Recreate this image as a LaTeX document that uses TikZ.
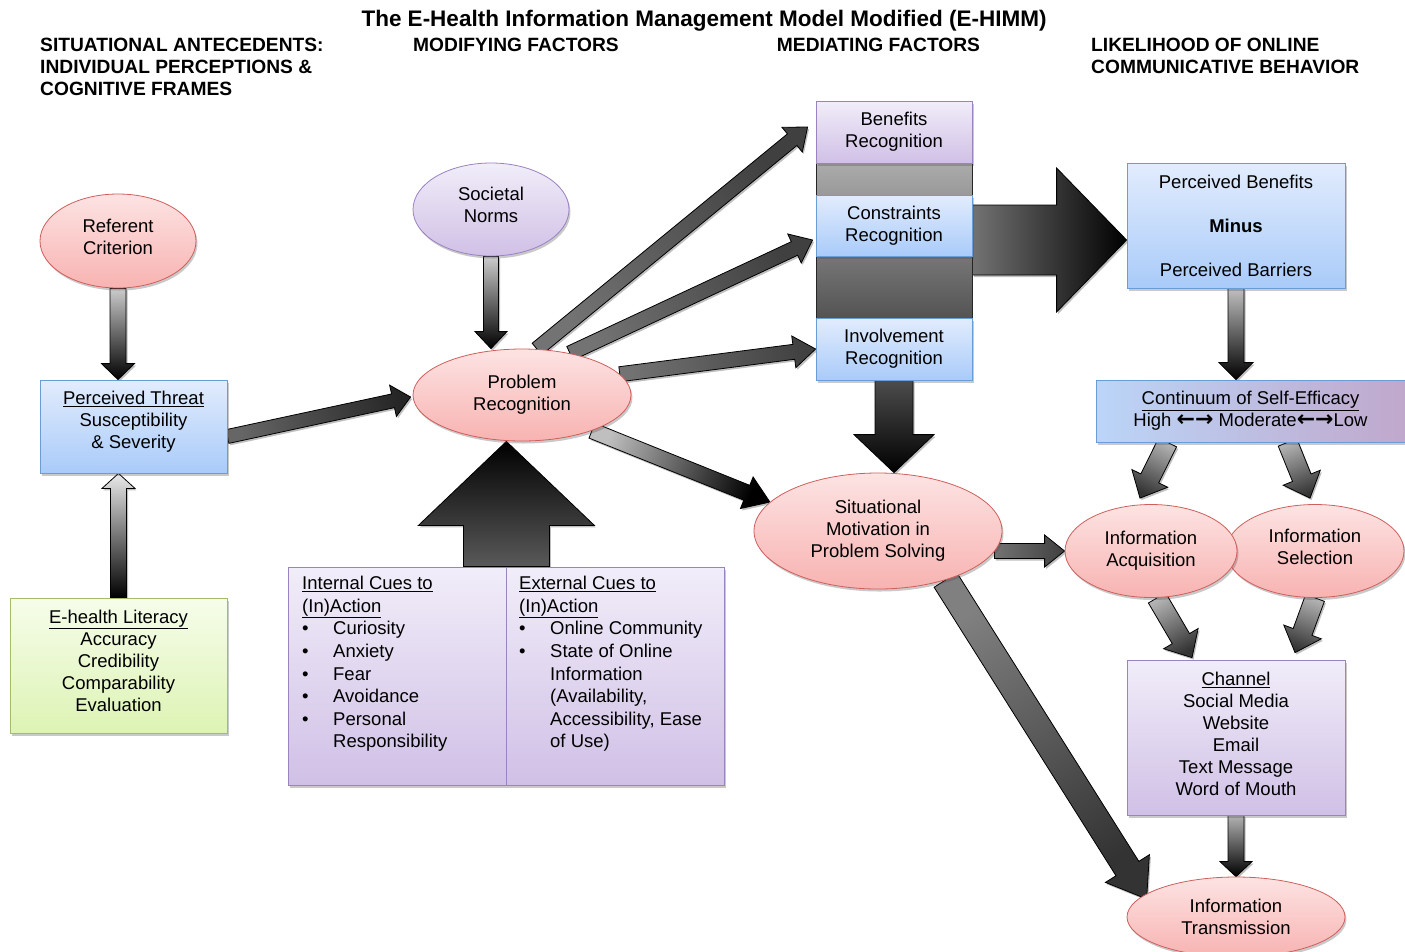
\documentclass[tikz,border=0pt]{standalone}
\usepackage{fontspec}
\setmainfont{Liberation Sans}
\newfontfamily\arrowfont{DejaVu Sans}
\usetikzlibrary{shapes.geometric,calc,shadows}

\pgfdeclarelayer{background}
\pgfsetlayers{background,main}

\definecolor{pinktop}{HTML}{FDE3E3}
\definecolor{pinkbot}{HTML}{F7B3B1}
\definecolor{pinkline}{HTML}{CF5F5C}
\definecolor{bluetop}{HTML}{E2ECFD}
\definecolor{bluebot}{HTML}{A9CBF9}
\definecolor{blueline}{HTML}{6A9CD6}
\definecolor{purptop}{HTML}{F1EDF9}
\definecolor{purpbot}{HTML}{D0C0E6}
\definecolor{purpline}{HTML}{9B82C1}
\definecolor{greentop}{HTML}{F6FDEA}
\definecolor{greenbot}{HTML}{DDF3B4}
\definecolor{greenline}{HTML}{A1BF69}
\definecolor{contleft}{HTML}{BBD5F8}
\definecolor{contmid}{HTML}{D6D4EE}
\definecolor{contright}{HTML}{C0A8CC}

% tail, tip, shaft half width, head half width, head length, tail colour, tip colour
\newcommand{\blockarrow}[7]{%
  \coordinate (ba-t) at (#1);
  \coordinate (ba-h) at (#2);
  \coordinate (ba-b) at ($(ba-h)!#5pt!(ba-t)$);
  \path let \p1=($(ba-h)-(ba-t)$), \n1={atan2(\y1,\x1)+90} in \pgfextra{\xdef\bashade{\n1}};
  \draw[arrowline,left color=#6,right color=#7,shading angle=\bashade]
    ($(ba-t)!#3pt!90:(ba-h)$) -- ($(ba-b)!#3pt!90:(ba-h)$) -- ($(ba-b)!#4pt!90:(ba-h)$)
    -- (ba-h) -- ($(ba-b)!#4pt!-90:(ba-h)$) -- ($(ba-b)!#3pt!-90:(ba-h)$)
    -- ($(ba-t)!#3pt!-90:(ba-h)$) -- cycle;
}
\newcommand{\bul}{\makebox[31pt][l]{\textbullet}}
\newcommand{\ind}{\hspace*{31pt}}
\newcommand{\twoway}{{\fontsize{22}{22}\arrowfont\bfseries ←→}}

\tikzset{
  every node/.style={font=\fontsize{18.5}{22}\selectfont,align=center},
  softshadow/.style={drop shadow={shadow xshift=1.5pt,shadow yshift=-2.5pt,opacity=0.3,fill=black!70}},
  arrowline/.style={draw=black,line width=0.8pt,line join=miter,
    drop shadow={shadow xshift=1.5pt,shadow yshift=-2pt,opacity=0.25,fill=black}},
  head/.style={font=\fontsize{19.2}{22}\selectfont\bfseries,inner sep=0pt},
  cuetext/.style={anchor=north west,align=left,inner sep=0pt,font=\fontsize{18.5}{22.6}\selectfont},
  pinkoval/.style={ellipse,draw=pinkline,line width=0.8pt,top color=pinktop,bottom color=pinkbot,inner sep=0pt,softshadow},
  purpoval/.style={ellipse,draw=purpline,line width=0.8pt,top color=purptop,bottom color=purpbot,inner sep=0pt,softshadow},
  bluebox/.style={rectangle,draw=blueline,line width=0.8pt,top color=bluetop,bottom color=bluebot,inner sep=0pt,softshadow},
  purpbox/.style={rectangle,draw=purpline,line width=0.8pt,top color=purptop,bottom color=purpbot,inner sep=0pt,softshadow},
  greenbox/.style={rectangle,draw=greenline,line width=0.8pt,top color=greentop,bottom color=greenbot,inner sep=0pt,softshadow}
}

\begin{document}
\begin{tikzpicture}[x=1pt,y=-1pt]
\useasboundingbox (0,0) rectangle (1405,951);

\node[font=\fontsize{22.5}{26}\selectfont\bfseries,inner sep=0pt] (title) at (704,21) {The E-Health Information Management Model Modified (E-HIMM)};
\node[head,anchor=north west,align=left] (hsit) at (40,38) {SITUATIONAL ANTECEDENTS:\\INDIVIDUAL PERCEPTIONS \&\\COGNITIVE FRAMES};
\node[head] (hmod) at (516,45) {MODIFYING FACTORS};
\node[head] (hmed) at (878.5,45) {MEDIATING FACTORS};
\node[head,anchor=north west,align=left] (hlik) at (1091,38) {LIKELIHOOD OF ONLINE\\COMMUNICATIVE BEHAVIOR};

\node[pinkoval,minimum width=156pt,minimum height=94pt,text depth=8pt] (ref) at (118,241) {Referent\\Criterion};
\node[bluebox,minimum width=187pt,minimum height=93pt,text depth=14pt] (thr) at (133.5,426.5) {\underline{Perceived Threat}\\Susceptibility\\\& Severity};
\node[greenbox,minimum width=217pt,minimum height=135pt,text depth=10pt] (lit) at (118.5,665.5) {\underline{E-health Literacy}\\Accuracy\\Credibility\\Comparability\\Evaluation};

\node[purpoval,minimum width=156pt,minimum height=93pt,text depth=10pt] (soc) at (491,209.5) {Societal\\Norms};
\node[pinkoval,minimum width=218pt,minimum height=92pt] (pr) at (522,395) {Problem\\Recognition};
\node[purpbox,minimum width=218pt,minimum height=218pt] (cueL) at (397,676) {};
\node[purpbox,minimum width=218pt,minimum height=218pt] (cueR) at (615,676) {};
\node[cuetext] (cueLtxt) at (302,576) {\underline{Internal Cues to}\\\underline{(In)Action}\\\bul Curiosity\\\bul Anxiety\\\bul Fear\\\bul Avoidance\\\bul Personal\\\ind Responsibility};
\node[cuetext] (cueRtxt) at (519,576) {\underline{External Cues to}\\\underline{(In)Action}\\\bul Online Community\\\bul State of Online\\\ind Information\\\ind (Availability,\\\ind Accessibility, Ease\\\ind of Use)};

\node[rectangle,draw=black!85,line width=0.8pt,top color=black!30,bottom color=black!70,minimum width=156pt,minimum height=180pt] (medcol) at (894,240) {};
\node[purpbox,minimum width=156pt,minimum height=62pt] (ben) at (894,132) {Benefits\\Recognition};
\node[bluebox,minimum width=156pt,minimum height=61pt] (con) at (894,225.5) {Constraints\\Recognition};
\node[bluebox,minimum width=156pt,minimum height=62pt] (inv) at (894,349) {Involvement\\Recognition};
\node[pinkoval,minimum width=248pt,minimum height=116pt] (sit) at (878,531) {Situational\\Motivation in\\Problem Solving};

\node[bluebox,minimum width=218pt,minimum height=125pt] (pb) at (1236,225.5) {Perceived Benefits\\[22pt]\textbf{Minus}\\[22pt]Perceived Barriers};
\node[rectangle,draw=blueline,line width=0.8pt,left color=contleft,middle color=contmid,right color=contright,inner sep=0pt,softshadow,minimum width=309pt,minimum height=62pt] (cont) at (1250.5,411) {\underline{Continuum of Self-Efficacy}\\High \twoway{} Moderate\twoway Low};
\node[pinkoval,minimum width=178pt,minimum height=93pt,text depth=8pt] (sel) at (1315,551) {Information\\Selection};
\node[pinkoval,minimum width=172pt,minimum height=93pt] (acq) at (1151,551) {Information\\Acquisition};
\node[purpbox,minimum width=218pt,minimum height=155pt,text depth=8pt] (chan) at (1236,737.5) {\underline{Channel}\\Social Media\\Website\\Email\\Text Message\\Word of Mouth};
\node[pinkoval,minimum width=218pt,minimum height=80pt] (tra) at (1236,917) {Information\\Transmission};

\begin{pgfonlayer}{background}
\blockarrow{ref.south}{ref.south |- thr.north}{8}{16.5}{16}{black!20}{black}
\blockarrow{lit.north}{lit.north |- thr.south}{8}{16.5}{15}{black}{black!8}
\blockarrow{$(thr.east)+(0,10)$}{$(pr.west)+(-2,2)$}{7}{16}{18}{black!60}{black!85}
\blockarrow{soc.south}{soc.south |- pr.north}{7.5}{16}{17}{black!20}{black}
\blockarrow{pr.72}{$(ben.west)+(-8,-5)$}{7.5}{16}{20}{black!55}{black!75}
\blockarrow{pr.41}{$(con.west)+(-3,14.5)$}{7.5}{16}{20}{black!55}{black!75}
\blockarrow{pr.12}{inv.west}{7.5}{16}{22}{black!55}{black!75}
\blockarrow{pr.-27}{sit.165}{8}{17}{25}{black!25}{black}
\blockarrow{cueL.north east}{cueL.north east |- pr.south}{43}{88}{84}{black!65}{black}
\blockarrow{inv.south}{inv.south |- sit.north}{19}{40}{38}{black!70}{black}
\blockarrow{$(con.east)+(0,14.5)$}{$(pb.west)+(0,14.5)$}{35}{72}{70}{black!55}{black}
\blockarrow{pb.south}{pb.south |- cont.north}{8}{17}{17}{black!25}{black}
\blockarrow{$(cont.south west)+(72,0)$}{$(acq.north)+(-11,-6)$}{10}{20}{22}{black!30}{black!80}
\blockarrow{$(cont.south)+(37,0)$}{$(sel.north)+(-5,-6)$}{10}{20}{22}{black!30}{black!80}
\blockarrow{$(acq.west -| sit.east)+(-8,0)$}{acq.west}{7.5}{16}{20}{black!55}{black!75}
\blockarrow{sit.-36}{$(tra.west)+(20,-18)$}{13.5}{26}{36}{black!50}{black!80}
\blockarrow{$(acq.south)+(6,0)$}{$(chan.north)+(-44,-2)$}{10}{20}{22}{black!30}{black!80}
\blockarrow{sel.south}{$(chan.north)+(59,-7)$}{10}{20}{22}{black!30}{black!80}
\blockarrow{chan.south}{chan.south |- tra.north}{8}{16}{15}{black!30}{black}
\end{pgfonlayer}
\end{tikzpicture}
\end{document}
